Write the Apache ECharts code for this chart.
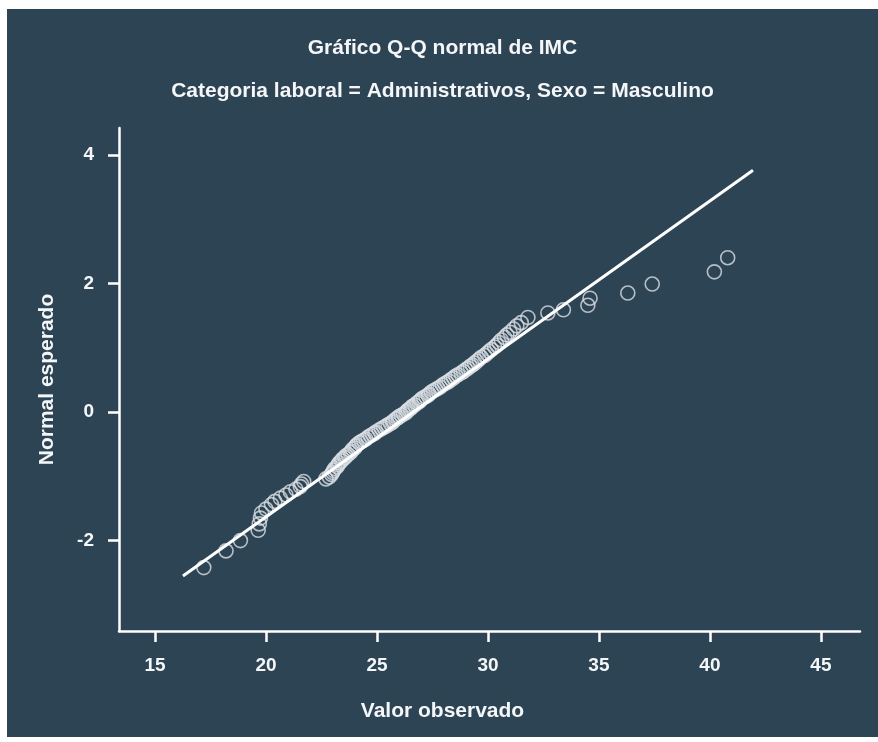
<!DOCTYPE html>
<html>
<head>
<meta charset="utf-8">
<script src="https://cdn.jsdelivr.net/npm/echarts@6/dist/echarts.min.js"></script>
<style>
  html, body { margin: 0; padding: 0; background: #ffffff; }
  #chart { position: absolute; left: 7px; top: 9px; width: 871px; height: 728px; }
</style>
</head>
<body>
<div id="chart"></div>
<script>
// Observed BMI values (sorted) and their expected normal scores
const observedValues = [
  17.2, 18.2, 18.85, 19.65, 19.7, 19.75, 19.8, 20.0, 20.25, 20.4,
  20.65, 20.9, 21.1, 21.35, 21.55, 21.6, 21.7, 22.7, 22.85, 22.95,
  23.0, 23.05, 23.1, 23.2, 23.25, 23.3, 23.4, 23.45, 23.55, 23.6,
  23.7, 23.8, 23.85, 23.9, 24.0, 24.05, 24.1, 24.2, 24.3, 24.4,
  24.5, 24.6, 24.7, 24.8, 24.9, 24.95, 25.1, 25.2, 25.3, 25.4,
  25.5, 25.6, 25.7, 25.75, 25.85, 25.95, 26.0, 26.1, 26.2, 26.3,
  26.35, 26.4, 26.5, 26.55, 26.6, 26.7, 26.8, 26.9, 26.95, 27.0,
  27.1, 27.2, 27.3, 27.35, 27.45, 27.55, 27.65, 27.75, 27.85, 27.95,
  28.05, 28.15, 28.25, 28.35, 28.45, 28.55, 28.65, 28.8, 28.9, 29.0,
  29.1, 29.2, 29.3, 29.4, 29.5, 29.6, 29.7, 29.85, 29.95, 30.05,
  30.15, 30.3, 30.4, 30.5, 30.6, 30.75, 30.85, 31.0, 31.15, 31.3,
  31.5, 31.8, 32.7, 33.4, 34.5, 34.6, 36.3, 37.4, 40.2, 40.8
];
const expectedNormal = [
  -2.42, -2.16, -2.00, -1.84, -1.74, -1.65, -1.57, -1.51, -1.44, -1.39,
  -1.34, -1.29, -1.24, -1.20, -1.16, -1.12, -1.08, -1.04, -1.01, -0.97,
  -0.94, -0.91, -0.88, -0.85, -0.82, -0.79, -0.76, -0.73, -0.71, -0.68,
  -0.66, -0.63, -0.61, -0.58, -0.56, -0.53, -0.51, -0.48, -0.46, -0.44,
  -0.42, -0.39, -0.37, -0.35, -0.33, -0.31, -0.28, -0.26, -0.24, -0.22,
  -0.20, -0.18, -0.16, -0.14, -0.11, -0.09, -0.07, -0.05, -0.03, -0.01,
  0.01, 0.03, 0.05, 0.07, 0.09, 0.11, 0.14, 0.16, 0.18, 0.20,
  0.22, 0.24, 0.26, 0.28, 0.31, 0.33, 0.35, 0.37, 0.39, 0.42,
  0.44, 0.46, 0.48, 0.51, 0.53, 0.56, 0.58, 0.61, 0.63, 0.66,
  0.68, 0.71, 0.73, 0.76, 0.79, 0.82, 0.85, 0.88, 0.91, 0.94,
  0.97, 1.01, 1.04, 1.08, 1.12, 1.16, 1.20, 1.24, 1.29, 1.34,
  1.39, 1.47, 1.54, 1.59, 1.66, 1.77, 1.85, 1.99, 2.18, 2.40
];
// Reference line endpoints
const refLineX = [16.26, 41.94];
const refLineY = [-2.55, 3.76];
// Axis tick labels
const xTicks = [15, 20, 25, 30, 35, 40, 45];
const yTicks = [-2, 0, 2, 4];

const titleText = 'Gráfico Q-Q normal de IMC';
const subtitleText = 'Categoria laboral = Administrativos, Sexo = Masculino';
const xAxisTitle = 'Valor observado';
const yAxisTitle = 'Normal esperado';

const fontFamily = '"Liberation Sans", Arial, Helvetica, sans-serif';
const textColor = '#f4f6f8';

const points = observedValues.map((v, i) => [v, expectedNormal[i]]);
const refLine = refLineX.map((v, i) => [v, refLineY[i]]);

const chart = echarts.init(document.getElementById('chart'), null, { renderer: 'canvas' });
chart.setOption({
  backgroundColor: '#2d4454',
  animation: false,
  title: [
    {
      text: titleText, left: 'center', top: 24,
      textStyle: { color: textColor, fontFamily, fontWeight: 'bold', fontSize: 21 }
    },
    {
      text: subtitleText, left: 'center', top: 67,
      textStyle: { color: textColor, fontFamily, fontWeight: 'bold', fontSize: 21 }
    }
  ],
  // x-axis title is centred on the whole panel
  graphic: [
    {
      type: 'text', left: 'center', top: 692,
      style: { text: xAxisTitle, fill: textColor, font: 'bold 21px ' + fontFamily }
    }
  ],
  grid: { left: 112, right: 18, top: 119, bottom: 106, containLabel: false },
  xAxis: {
    type: 'value', min: 13.38, max: 46.76,
    axisLine: { show: true, onZero: false, lineStyle: { color: '#ffffff', width: 2.5 } },
    axisTick: { show: true, length: 11, lineStyle: { color: '#ffffff', width: 2.5 }, customValues: xTicks },
    axisLabel: { color: textColor, fontFamily, fontWeight: 'bold', fontSize: 19, margin: 25, customValues: xTicks },
    splitLine: { show: false }
  },
  yAxis: {
    type: 'value', min: -3.406, max: 4.417,
    name: yAxisTitle, nameLocation: 'middle', nameGap: 61, nameRotate: 90,
    nameTextStyle: { color: textColor, fontFamily, fontWeight: 'bold', fontSize: 21 },
    axisLine: { show: true, onZero: false, lineStyle: { color: '#ffffff', width: 2.5 } },
    axisTick: { show: true, length: 11, lineStyle: { color: '#ffffff', width: 2.5 }, customValues: yTicks },
    axisLabel: { color: textColor, fontFamily, fontWeight: 'bold', fontSize: 19, margin: 25, customValues: yTicks },
    splitLine: { show: false }
  },
  series: [
    {
      type: 'scatter',
      data: points,
      symbol: 'circle',
      symbolSize: 14,
      itemStyle: { color: 'rgba(0,0,0,0)', borderColor: '#d9dfe4', borderWidth: 1.6 },
      z: 2
    },
    {
      type: 'line',
      data: refLine,
      showSymbol: false,
      lineStyle: { color: '#ffffff', width: 3 },
      z: 3
    }
  ]
});
</script>
</body>
</html>
